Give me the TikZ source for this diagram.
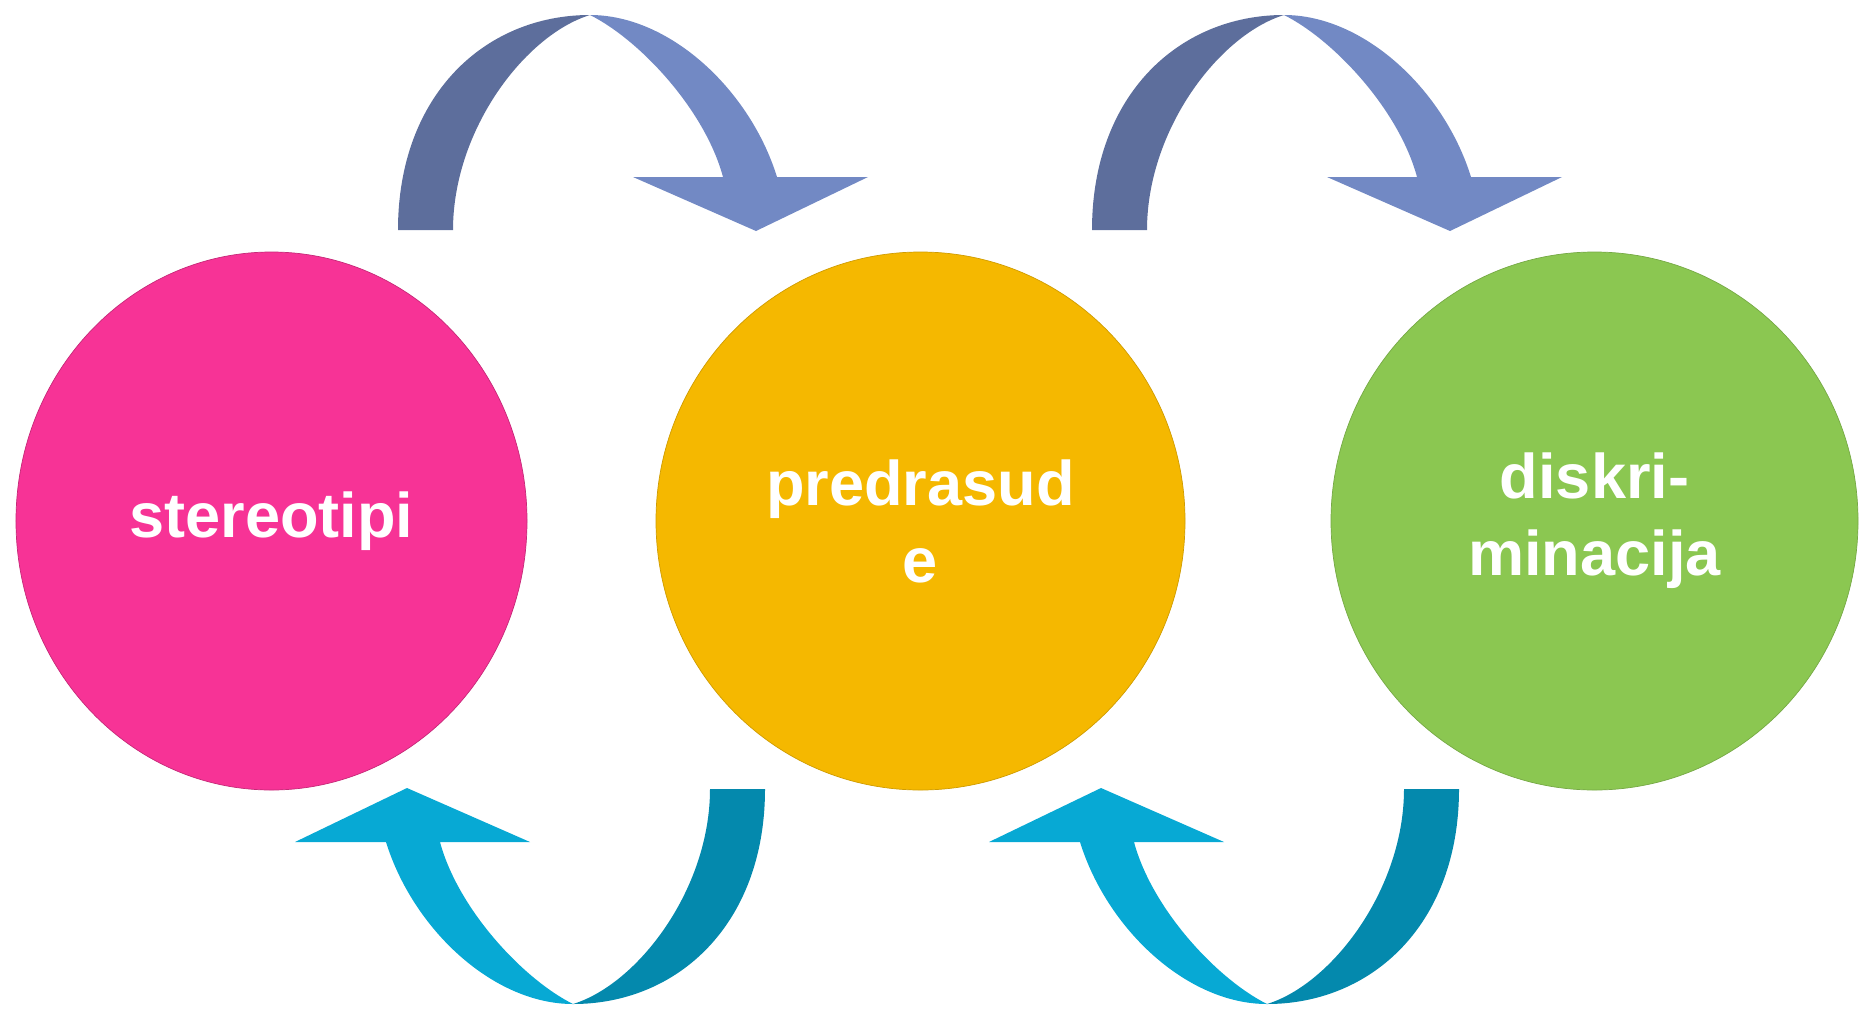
\documentclass[tikz,border=0pt]{standalone}
\usepackage{fontspec}
\setmainfont{Liberation Sans}
\usetikzlibrary{shapes.geometric}
\definecolor{stereopink}{RGB}{247,51,150}
\definecolor{predrorange}{RGB}{245,184,0}
\definecolor{diskrgreen}{RGB}{139,199,81}
\definecolor{topdark}{RGB}{93,110,156}
\definecolor{toplight}{RGB}{114,137,196}
\definecolor{lowdark}{RGB}{4,137,173}
\definecolor{lowlight}{RGB}{7,169,212}

\tikzset{
  bubble/.style={ellipse, inner sep=0pt, outer sep=0pt, minimum height=107.6mm,
    text=white, align=center, font=\fontsize{35.9}{43.8}\selectfont\bfseries},
}

% one twisted loop arrow: #1 = tail half, #2 = head half
\newcommand{\looparrow}[2]{%
  \fill[#1] (398,230) .. controls (398,95) and (485,15) .. (590,15)
    .. controls (525,35) and (453,130) .. (453,230) -- cycle;
  \fill[#2] (590,15) .. controls (670,15) and (750,90) .. (777,177)
    -- (868,177) -- (756,231) -- (633,177) -- (723,177)
    .. controls (705,110) and (640,40) .. (590,15) -- cycle;
}

\begin{document}
\begin{tikzpicture}[x=0.2mm, y=-0.2mm]
\useasboundingbox (0,0) rectangle (1860,1010);

% Draw the three circles
\node[bubble, fill=stereopink, draw=stereopink!80!black, minimum width=102.2mm] (stereo) at (271.5,521) {stereotipi};
\node[bubble, fill=predrorange, draw=predrorange!85!black, minimum width=105.8mm] (predr) at (920.5,521) {predrasud\\e};
\node[bubble, fill=diskrgreen, draw=diskrgreen!85!black, minimum width=105.4mm] (diskr) at (1594.5,521) {diskri-\\minacija};

% Upper arrows
\foreach \dx in {0,694} {
  \begin{scope}[shift={(\dx,0)}]
    \looparrow{topdark}{toplight}
  \end{scope}
}

% Lower arrows (turned round)
\foreach \dx in {0,694} {
  \begin{scope}[shift={(\dx,0)}, shift={(1163,1019)}, rotate=180]
    \looparrow{lowdark}{lowlight}
  \end{scope}
}
\end{tikzpicture}
\end{document}
